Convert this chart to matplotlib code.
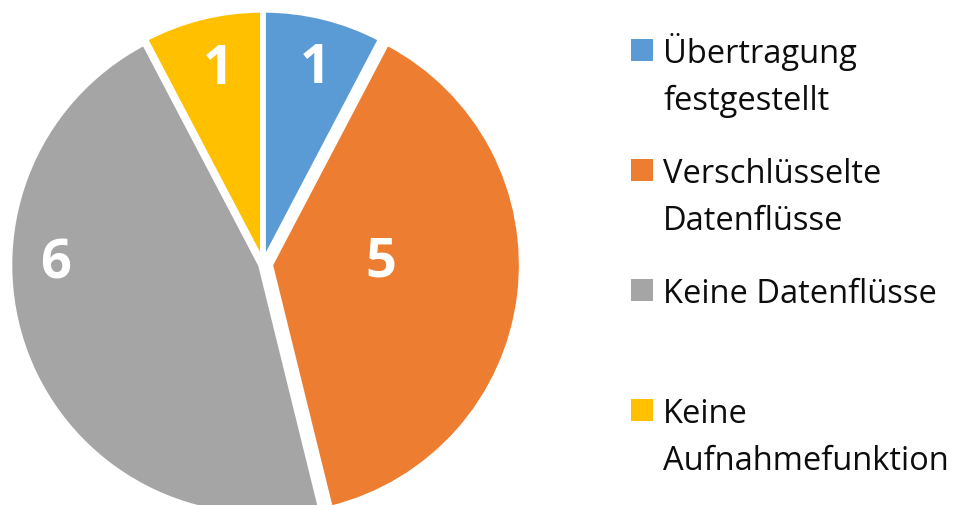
import numpy as np
import matplotlib
matplotlib.use('Agg')
import matplotlib.pyplot as plt
from matplotlib.patches import Rectangle

plt.rcParams['font.family'] = ['Open Sans', 'DejaVu Sans']

# Daten
labels = ['Übertragung\nfestgestellt', 'Verschlüsselte\nDatenflüsse',
          'Keine Datenflüsse', 'Keine\nAufnahmefunktion']
values = [1, 5, 6, 1]
colors = ['#5B9BD5', '#ED7D31', '#A5A5A5', '#FFC000']
explode = [0.014, 0.032, 0.012, 0.014]

W, H = 966, 506
CX, CY, R = 263, 265, 250  # Pixel, y von oben

fig = plt.figure(figsize=(W / 100, H / 100), dpi=100)
ax = fig.add_axes([0, 0, 1, 1])

wedges, _ = ax.pie(values, colors=colors, startangle=90, counterclock=False,
                   explode=explode, radius=1,
                   wedgeprops=dict(edgecolor='white', linewidth=3))
ax.set_xlim(-CX / R, (W - CX) / R)
ax.set_ylim(-(H - CY) / R, CY / R)
ax.set_aspect('auto')
ax.axis('off')

# Beschriftungen in den Segmenten (Abstand, Winkel)
label_pos = [(0.81, 75), (0.47, 1), (0.83, 180), (0.80, 103)]
for v, (d, a) in zip(values, label_pos):
    ax.text(d * np.cos(np.radians(a)), d * np.sin(np.radians(a)), str(v),
            color='white', fontsize=39, fontweight='bold',
            ha='center', va='center')

# Legende
def fx(x):
    return x / W

def fy(y):
    return 1 - y / H

item_top = [40, 160, 280, 400]
for lab, c, top in zip(labels, colors, item_top):
    fig.add_artist(Rectangle((fx(631), fy(top + 22)), 22 / W, 22 / H,
                             transform=fig.transFigure, color=c, lw=0))
    for i, line in enumerate(lab.split('\n')):
        fig.text(fx(663), fy(top + 23 + i * 47), line, fontsize=23.5,
                 color='#0d0d0d', ha='left', va='baseline')

plt.savefig('out.png', dpi=100)
print('Saved: out.png')
